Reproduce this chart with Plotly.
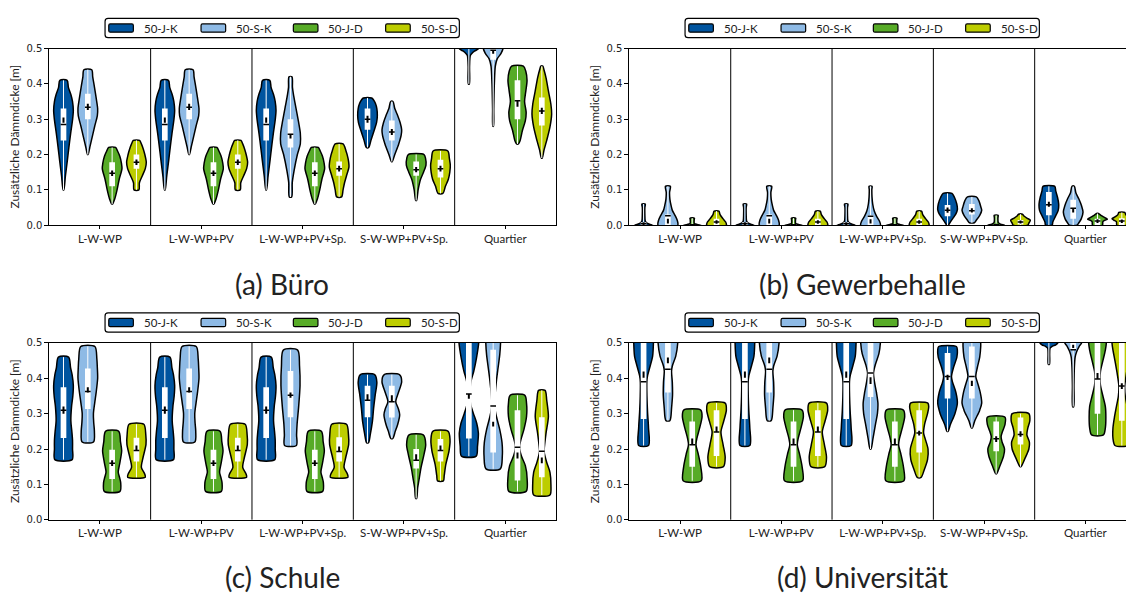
import plotly.graph_objects as go

FIG_W, FIG_H = 1126, 599

GROUPS = ["L-W-WP", "L-W-WP+PV", "L-W-WP+PV+Sp.", "S-W-WP+PV+Sp.", "Quartier"]
SERIES = ["50-J-K", "50-S-K", "50-J-D", "50-S-D"]
COLORS = ["#00549F", "#8EBAE5", "#57AB27", "#BDCD00"]
Y_TICKS = [0.0, 0.1, 0.2, 0.3, 0.4, 0.5]
CAPTIONS = ["(a) Büro", "(b) Gewerbehalle", "(c) Schule", "(d) Universität"]
Y_TITLE = "Zusätzliche Dämmdicke [m]"

# Violin outlines: [value, relative half-width] from the lowest to the highest value.
# ---------------- (a) Büro ----------------
A_JK = [[0.10, 0.03], [0.14, 0.2], [0.185, 0.4], [0.22, 0.55], [0.26, 0.73], [0.30, 0.93], [0.325, 1.0], [0.35, 0.92], [0.37, 0.75], [0.39, 0.5], [0.41, 0.37]]
A_SK = [[0.20, 0.03], [0.22, 0.2], [0.25, 0.45], [0.28, 0.7], [0.31, 0.97], [0.33, 1.0], [0.36, 0.85], [0.39, 0.68], [0.42, 0.5], [0.44, 0.4]]
A_JD = [[0.06, 0.04], [0.075, 0.27], [0.10, 0.5], [0.13, 0.72], [0.16, 1.0], [0.175, 0.95], [0.195, 0.78], [0.21, 0.55], [0.22, 0.35]]
A_SD = [[0.10, 0.25], [0.12, 0.3], [0.14, 0.6], [0.16, 0.9], [0.178, 1.0], [0.20, 0.85], [0.215, 0.7], [0.23, 0.5], [0.24, 0.32]]
A_SK3 = [[0.08, 0.12], [0.12, 0.18], [0.155, 0.37], [0.20, 0.7], [0.23, 1.0], [0.26, 1.0], [0.295, 0.8], [0.34, 0.5], [0.37, 0.3], [0.39, 0.2], [0.42, 0.15]]
A_SD3 = [[0.08, 0.25], [0.10, 0.4], [0.12, 0.55], [0.14, 0.75], [0.165, 1.0], [0.19, 0.9], [0.21, 0.7], [0.23, 0.4]]
A_JK4 = [[0.22, 0.12], [0.24, 0.35], [0.27, 0.7], [0.29, 0.92], [0.31, 1.0], [0.33, 0.95], [0.345, 0.8], [0.355, 0.6], [0.36, 0.42]]
A_SK4 = [[0.18, 0.04], [0.20, 0.3], [0.23, 0.7], [0.255, 0.95], [0.27, 1.0], [0.29, 0.85], [0.31, 0.6], [0.33, 0.3], [0.35, 0.12]]
A_JD4 = [[0.07, 0.04], [0.10, 0.2], [0.13, 0.45], [0.15, 0.75], [0.17, 1.0], [0.19, 0.95], [0.20, 0.8]]
A_SD4 = [[0.09, 0.25], [0.11, 0.5], [0.13, 0.8], [0.15, 0.95], [0.17, 1.0], [0.19, 0.9], [0.21, 0.75]]
A_JK5 = [[0.40, 0.05], [0.45, 0.07], [0.48, 0.15], [0.486, 0.3], [0.493, 0.6], [0.50, 1.0], [0.53, 1.0]]
A_SK5 = [[0.28, 0.03], [0.33, 0.06], [0.40, 0.12], [0.45, 0.22], [0.47, 0.4], [0.486, 0.8], [0.50, 1.0], [0.53, 1.0]]
A_JD5 = [[0.23, 0.1], [0.24, 0.27], [0.268, 0.5], [0.296, 0.8], [0.32, 0.88], [0.35, 0.72], [0.38, 0.85], [0.41, 0.97], [0.435, 0.85], [0.45, 0.6]]
A_SD5 = [[0.19, 0.04], [0.213, 0.23], [0.24, 0.5], [0.278, 0.83], [0.315, 1.0], [0.343, 0.92], [0.38, 0.67], [0.417, 0.43], [0.44, 0.22], [0.45, 0.1]]
BUERO_SHAPES = [[A_JK, A_SK, A_JD, A_SD], [A_JK, A_SK, A_JD, A_SD], [A_JK, A_SK3, A_JD, A_SD3],
                [A_JK4, A_SK4, A_JD4, A_SD4], [A_JK5, A_SK5, A_JD5, A_SD5]]
BUERO_Q1 = [[0.24, 0.30, 0.11, 0.16], [0.24, 0.30, 0.11, 0.16], [0.24, 0.22, 0.11, 0.14], [0.27, 0.24, 0.14, 0.135], [0.505, 0.468, 0.30, 0.282]]
BUERO_MED = [[0.285, 0.334, 0.147, 0.178], [0.285, 0.334, 0.147, 0.178], [0.285, 0.257, 0.147, 0.16], [0.30, 0.264, 0.157, 0.16], [0.52, 0.495, 0.352, 0.323]]
BUERO_Q3 = [[0.33, 0.372, 0.178, 0.20], [0.33, 0.372, 0.178, 0.20], [0.33, 0.30, 0.178, 0.18], [0.33, 0.296, 0.18, 0.185], [0.535, 0.53, 0.41, 0.361]]
BUERO_CI_LO = [[0.29, 0.326, 0.139, 0.17], [0.29, 0.326, 0.139, 0.17], [0.29, 0.245, 0.139, 0.152], [0.29, 0.255, 0.15, 0.152], [0.515, 0.485, 0.335, 0.315]]
BUERO_CI_HI = [[0.305, 0.344, 0.155, 0.186], [0.305, 0.344, 0.155, 0.186], [0.305, 0.258, 0.155, 0.168], [0.31, 0.272, 0.165, 0.168], [0.525, 0.495, 0.352, 0.332]]

# ---------------- (b) Gewerbehalle ----------------
B_JK = [[0.0, 0.95], [0.003, 0.6], [0.007, 0.3], [0.012, 0.17], [0.03, 0.13], [0.05, 0.13], [0.06, 0.17]]
B_SK = [[0.0, 1.0], [0.014, 0.95], [0.028, 0.72], [0.042, 0.45], [0.056, 0.32], [0.074, 0.2], [0.093, 0.17], [0.11, 0.25]]
B_JD = [[0.0, 0.9], [0.002, 0.5], [0.005, 0.22], [0.015, 0.2], [0.02, 0.22]]
B_SD = [[0.0, 1.0], [0.009, 0.93], [0.0185, 0.65], [0.03, 0.36], [0.04, 0.24]]
B_SK3 = [[0.0, 1.0], [0.012, 0.9], [0.025, 0.62], [0.04, 0.38], [0.06, 0.22], [0.08, 0.15], [0.10, 0.13], [0.11, 0.15]]
B_JK4 = [[0.0, 0.08], [0.007, 0.24], [0.0185, 0.52], [0.032, 0.85], [0.044, 1.0], [0.06, 0.94], [0.079, 0.7], [0.09, 0.45]]
B_SK4 = [[0.007, 0.25], [0.014, 0.45], [0.028, 0.8], [0.042, 1.0], [0.051, 0.92], [0.069, 0.72], [0.08, 0.45]]
B_JD4 = [[0.0, 0.85], [0.003, 0.45], [0.007, 0.22], [0.02, 0.18], [0.028, 0.2]]
B_SD4 = [[0.0, 0.75], [0.006, 0.85], [0.014, 1.0], [0.02, 0.65], [0.026, 0.35], [0.031, 0.2]]
B_JK5 = [[0.0, 0.33], [0.009, 0.4], [0.023, 0.63], [0.042, 0.95], [0.06, 1.0], [0.079, 0.88], [0.097, 0.7], [0.11, 0.6]]
B_SK5 = [[0.0, 0.4], [0.007, 0.58], [0.018, 0.82], [0.037, 1.0], [0.055, 0.85], [0.074, 0.58], [0.092, 0.27], [0.11, 0.12]]
B_JD5 = [[0.0, 0.5], [0.01, 0.55], [0.014, 0.75], [0.017, 1.0], [0.022, 0.7], [0.028, 0.35], [0.033, 0.1]]
B_SD5 = [[0.0, 0.5], [0.01, 0.55], [0.014, 0.8], [0.018, 1.0], [0.024, 0.65], [0.03, 0.4], [0.036, 0.3]]
HALLE_SHAPES = [[B_JK, B_SK, B_JD, B_SD], [B_JK, B_SK, B_JD, B_SD], [B_JK, B_SK3, B_JD, B_SD],
                [B_JK4, B_SK4, B_JD4, B_SD4], [B_JK5, B_SK5, B_JD5, B_SD5]]
HALLE_Q1 = [[0.0, 0.0, 0.0, 0.0], [0.0, 0.0, 0.0, 0.0], [0.0, 0.0, 0.0, 0.0], [0.025, 0.03, 0.0, 0.002], [0.028, 0.018, 0.0, 0.0]]
HALLE_MED = [[0.004, 0.027, 0.001, 0.009], [0.004, 0.027, 0.001, 0.009], [0.004, 0.025, 0.001, 0.009], [0.042, 0.041, 0.001, 0.009], [0.058, 0.048, 0.012, 0.012]]
HALLE_Q3 = [[0.008, 0.03, 0.003, 0.018], [0.008, 0.03, 0.003, 0.018], [0.008, 0.028, 0.003, 0.018], [0.057, 0.06, 0.003, 0.015], [0.094, 0.072, 0.018, 0.02]]
HALLE_CI_LO = [[0.0, 0.005, 0.0, 0.004], [0.0, 0.005, 0.0, 0.004], [0.0, 0.005, 0.0, 0.004], [0.035, 0.036, 0.0, 0.005], [0.052, 0.036, 0.006, 0.006]]
HALLE_CI_HI = [[0.008, 0.018, 0.003, 0.014], [0.008, 0.018, 0.003, 0.014], [0.008, 0.017, 0.003, 0.014], [0.05, 0.048, 0.004, 0.013], [0.066, 0.048, 0.017, 0.016]]

# ---------------- (c) Schule ----------------
C_JK = [[0.17, 0.88], [0.20, 0.92], [0.225, 0.92], [0.25, 0.85], [0.28, 0.75], [0.32, 0.82], [0.35, 0.95], [0.38, 1.0], [0.41, 0.88], [0.43, 0.72], [0.46, 0.52]]
C_SK = [[0.22, 0.58], [0.25, 0.67], [0.275, 0.6], [0.30, 0.57], [0.33, 0.7], [0.36, 0.85], [0.40, 1.0], [0.43, 0.97], [0.455, 0.92], [0.49, 0.72]]
C_JD = [[0.08, 0.8], [0.105, 0.87], [0.12, 0.75], [0.135, 0.62], [0.16, 0.78], [0.195, 0.97], [0.22, 0.85], [0.25, 0.67]]
C_SD = [[0.12, 0.9], [0.13, 0.83], [0.148, 0.5], [0.176, 0.67], [0.213, 0.97], [0.24, 0.95], [0.27, 0.75]]
C_SK3 = [[0.21, 0.6], [0.24, 0.62], [0.27, 0.67], [0.32, 0.83], [0.38, 0.97], [0.435, 0.92], [0.48, 0.73]]
C_JK4 = [[0.218, 0.1], [0.241, 0.28], [0.278, 0.5], [0.315, 0.62], [0.352, 0.78], [0.389, 0.95], [0.41, 0.75]]
C_SK4 = [[0.23, 0.1], [0.25, 0.35], [0.27, 0.6], [0.297, 0.8], [0.315, 0.65], [0.334, 0.4], [0.36, 0.67], [0.39, 1.0], [0.41, 0.8]]
C_JD4 = [[0.06, 0.05], [0.09, 0.15], [0.111, 0.28], [0.148, 0.5], [0.185, 0.8], [0.213, 0.97], [0.24, 0.72]]
C_SD4 = [[0.11, 0.3], [0.125, 0.38], [0.157, 0.55], [0.195, 0.87], [0.227, 0.97], [0.25, 0.78]]
C_JK5 = [[0.18, 0.75], [0.208, 0.88], [0.245, 0.97], [0.273, 0.8], [0.30, 0.47], [0.324, 0.2], [0.35, 0.08], [0.37, 0.12], [0.393, 0.23], [0.42, 0.5], [0.458, 0.78], [0.50, 1.0], [0.53, 1.0]]
C_SK5 = [[0.144, 0.73], [0.18, 0.93], [0.218, 0.9], [0.255, 0.67], [0.292, 0.33], [0.324, 0.13], [0.356, 0.2], [0.393, 0.33], [0.43, 0.5], [0.467, 0.67], [0.50, 0.75], [0.53, 0.75]]
C_JD5 = [[0.08, 0.88], [0.116, 0.98], [0.153, 0.8], [0.18, 0.4], [0.205, 0.2], [0.227, 0.35], [0.255, 0.65], [0.292, 0.92], [0.329, 0.92], [0.352, 0.75]]
C_SD5 = [[0.07, 0.83], [0.097, 0.93], [0.134, 0.83], [0.162, 0.5], [0.193, 0.23], [0.208, 0.27], [0.245, 0.43], [0.292, 0.67], [0.338, 0.5], [0.366, 0.33]]
SCHULE_SHAPES = [[C_JK, C_SK, C_JD, C_SD], [C_JK, C_SK, C_JD, C_SD], [C_JK, C_SK3, C_JD, C_SD],
                 [C_JK4, C_SK4, C_JD4, C_SD4], [C_JK5, C_SK5, C_JD5, C_SD5]]
SCHULE_Q1 = [[0.231, 0.313, 0.115, 0.165], [0.231, 0.313, 0.115, 0.165], [0.231, 0.29, 0.115, 0.165], [0.29, 0.289, 0.145, 0.165], [0.23, 0.19, 0.111, 0.12]]
SCHULE_MED = [[0.31, 0.363, 0.16, 0.196], [0.31, 0.363, 0.16, 0.196], [0.31, 0.352, 0.16, 0.193], [0.338, 0.334, 0.168, 0.196], [0.356, 0.322, 0.205, 0.194]]
SCHULE_Q3 = [[0.375, 0.428, 0.198, 0.232], [0.375, 0.428, 0.198, 0.232], [0.375, 0.421, 0.198, 0.233], [0.379, 0.379, 0.20, 0.228], [0.53, 0.481, 0.31, 0.29]]
SCHULE_CI_LO = [[0.30, 0.36, 0.152, 0.196], [0.30, 0.36, 0.152, 0.196], [0.30, 0.345, 0.152, 0.193], [0.338, 0.336, 0.168, 0.196], [0.342, 0.264, 0.173, 0.16]]
SCHULE_CI_HI = [[0.32, 0.375, 0.168, 0.21], [0.32, 0.375, 0.168, 0.21], [0.32, 0.36, 0.168, 0.207], [0.355, 0.352, 0.185, 0.21], [0.356, 0.277, 0.19, 0.176]]

# ---------------- (d) Universität ----------------
D_JK = [[0.21, 0.5], [0.26, 0.5], [0.306, 0.4], [0.35, 0.34], [0.39, 0.33], [0.407, 0.4], [0.435, 0.67], [0.463, 0.92], [0.50, 1.0], [0.53, 1.0]]
D_SK = [[0.28, 0.2], [0.29, 0.3], [0.315, 0.37], [0.352, 0.47], [0.389, 0.45], [0.42, 0.37], [0.435, 0.45], [0.463, 0.8], [0.50, 1.0], [0.53, 1.0]]
D_JD = [[0.11, 0.92], [0.148, 0.88], [0.185, 0.62], [0.212, 0.38], [0.231, 0.48], [0.259, 0.75], [0.292, 1.0], [0.31, 0.87]]
D_SD = [[0.15, 0.7], [0.176, 0.88], [0.212, 0.67], [0.248, 0.45], [0.278, 0.72], [0.31, 1.0], [0.33, 0.88]]
D_SK3 = [[0.20, 0.05], [0.23, 0.25], [0.27, 0.5], [0.30, 0.7], [0.33, 0.75], [0.36, 0.6], [0.39, 0.4], [0.415, 0.3], [0.44, 0.5], [0.47, 0.85], [0.50, 1.0], [0.53, 1.0]]
D_SD3 = [[0.12, 0.2], [0.14, 0.5], [0.17, 0.85], [0.20, 0.9], [0.23, 0.6], [0.245, 0.45], [0.27, 0.55], [0.30, 0.85], [0.32, 0.97], [0.33, 0.88]]
D_JK4 = [[0.25, 0.05], [0.27, 0.3], [0.30, 0.75], [0.33, 1.0], [0.36, 0.85], [0.39, 0.5], [0.405, 0.4], [0.43, 0.6], [0.46, 0.95], [0.48, 1.0], [0.49, 0.9]]
D_SK4 = [[0.26, 0.05], [0.28, 0.3], [0.31, 0.8], [0.33, 1.0], [0.36, 0.85], [0.39, 0.55], [0.405, 0.4], [0.43, 0.55], [0.46, 0.8], [0.49, 0.9], [0.50, 0.9], [0.53, 0.9]]
D_JD4 = [[0.13, 0.05], [0.15, 0.35], [0.18, 0.75], [0.20, 0.85], [0.22, 0.6], [0.235, 0.5], [0.25, 0.65], [0.27, 0.9], [0.29, 0.9]]
D_SD4 = [[0.15, 0.05], [0.17, 0.4], [0.20, 0.85], [0.22, 0.9], [0.24, 0.65], [0.26, 0.75], [0.28, 0.95], [0.30, 0.85]]
D_JK5 = [[0.44, 0.06], [0.47, 0.08], [0.485, 0.12], [0.49, 0.3], [0.495, 0.7], [0.50, 0.9], [0.51, 1.0], [0.54, 1.0]]
D_SK5 = [[0.32, 0.05], [0.38, 0.08], [0.43, 0.12], [0.46, 0.2], [0.475, 0.35], [0.49, 0.6], [0.50, 0.85], [0.52, 1.0], [0.54, 1.0]]
D_JD5 = [[0.24, 0.6], [0.26, 0.8], [0.29, 0.85], [0.32, 0.8], [0.35, 0.55], [0.38, 0.3], [0.40, 0.25], [0.42, 0.3], [0.45, 0.55], [0.48, 0.8], [0.50, 0.9], [0.53, 0.9]]
D_SD5 = [[0.21, 0.7], [0.23, 0.9], [0.26, 0.9], [0.29, 0.75], [0.32, 0.55], [0.35, 0.35], [0.378, 0.3], [0.41, 0.45], [0.45, 0.7], [0.48, 0.9], [0.50, 1.0], [0.53, 1.0]]
UNI_SHAPES = [[D_JK, D_SK, D_JD, D_SD], [D_JK, D_SK, D_JD, D_SD], [D_JK, D_SK3, D_JD, D_SD3],
              [D_JK4, D_SK4, D_JD4, D_SD4], [D_JK5, D_SK5, D_JD5, D_SD5]]
UNI_Q1 = [[0.285, 0.36, 0.15, 0.18], [0.285, 0.36, 0.15, 0.18], [0.285, 0.347, 0.15, 0.19], [0.343, 0.343, 0.194, 0.213], [0.505, 0.48, 0.30, 0.28]]
UNI_MED = [[0.39, 0.426, 0.212, 0.248], [0.39, 0.426, 0.212, 0.248], [0.39, 0.415, 0.212, 0.245], [0.405, 0.405, 0.229, 0.241], [0.52, 0.481, 0.398, 0.378]]
UNI_Q3 = [[0.53, 0.53, 0.278, 0.31], [0.53, 0.53, 0.278, 0.31], [0.53, 0.53, 0.278, 0.31], [0.472, 0.49, 0.278, 0.289], [0.54, 0.53, 0.53, 0.53]]
UNI_CI_LO = [[0.402, 0.443, 0.212, 0.248], [0.402, 0.443, 0.212, 0.248], [0.402, 0.384, 0.212, 0.238], [0.395, 0.378, 0.22, 0.235], [0.515, 0.486, 0.398, 0.37]]
UNI_CI_HI = [[0.419, 0.459, 0.23, 0.264], [0.419, 0.459, 0.23, 0.264], [0.419, 0.403, 0.23, 0.252], [0.41, 0.393, 0.236, 0.25], [0.525, 0.495, 0.415, 0.386]]

# Geometry of the dodged violins (in category units)
DODGE = [-0.36, -0.12, 0.12, 0.36]
HALF_W = 0.097
BOX_HALF = 0.028

# Pixel layout of the four panels
PANEL_LEFT = [49.3, 629.4, 49.3, 629.4]
PANEL_RIGHT = [556.0, 1136.0, 556.0, 1136.0]
PANEL_TOP = [43.3, 43.3, 343.3, 343.3]
PANEL_BOTTOM = [223.3, 223.3, 523.3, 523.3]
LEGEND_TOP = [12.7, 12.7, 312.7, 312.7]
CAPTION_CY = [283, 283, 582, 582]
HALF_CX = [282.2, 862.2, 282.2, 862.2]

# Legend box metrics (px)
LEG_W, LEG_H = 354.3, 19.6
LEG_PAD, LEG_STEP = 3.7, 92.3
SWATCH_W, SWATCH_H = 24.6, 8.4
TEXT_GAP = 8.4

PANELS = [
    (BUERO_SHAPES, BUERO_Q1, BUERO_MED, BUERO_Q3, BUERO_CI_LO, BUERO_CI_HI),
    (HALLE_SHAPES, HALLE_Q1, HALLE_MED, HALLE_Q3, HALLE_CI_LO, HALLE_CI_HI),
    (SCHULE_SHAPES, SCHULE_Q1, SCHULE_MED, SCHULE_Q3, SCHULE_CI_LO, SCHULE_CI_HI),
    (UNI_SHAPES, UNI_Q1, UNI_MED, UNI_Q3, UNI_CI_LO, UNI_CI_HI),
]

fig = go.Figure()


def px_x(v):
    return v / FIG_W


def px_y(v):
    return 1 - v / FIG_H


def violin_path(center, knots):
    ys = [k[0] for k in knots]
    ws = [k[1] for k in knots]
    xr = [center + w * HALF_W for w in ws]
    xl = [center - w * HALF_W for w in ws[::-1]]
    return xr + xl + [xr[0]], ys + ys[::-1] + [ys[0]]


def rounded_rect(x0, y0, x1, y1, r):
    # SVG path in paper coordinates for a rectangle with rounded corners (pixel input)
    X = px_x
    Y = px_y
    return ("M{a},{b} L{c},{b} Q{d},{b} {d},{e} L{d},{f} Q{d},{g} {c},{g} "
            "L{a},{g} Q{h},{g} {h},{f} L{h},{e} Q{h},{b} {a},{b} Z").format(
        a=X(x0 + r), b=Y(y0), c=X(x1 - r), d=X(x1), e=Y(y0 + r),
        f=Y(y1 - r), g=Y(y1), h=X(x0))


shapes = []
annotations = []
for p, (vshapes, q1, med, q3, cilo, cihi) in enumerate(PANELS):
    n = "" if p == 0 else str(p + 1)
    xa, ya = "x" + n, "y" + n

    # violin bodies, one trace per series
    for s in range(4):
        xs, ys = [], []
        for g in range(5):
            px, py = violin_path(g + DODGE[s], vshapes[g][s])
            xs += px + [None]
            ys += py + [None]
        fig.add_trace(go.Scatter(
            x=xs, y=ys, mode="lines", fill="toself", fillcolor=COLORS[s],
            line=dict(color="black", width=1.5, shape="spline", smoothing=0.8),
            name=SERIES[s], showlegend=False, xaxis=xa, yaxis=ya,
            hoverinfo="skip"))

    wx, wy, bx, by, mx, my, cx, cy = [], [], [], [], [], [], [], []
    for g in range(5):
        for s in range(4):
            c = g + DODGE[s]
            knots = vshapes[g][s]
            wx += [c, c, None]
            wy += [knots[0][0], knots[-1][0], None]
            bx += [c - BOX_HALF, c + BOX_HALF, c + BOX_HALF, c - BOX_HALF, c - BOX_HALF, None]
            by += [q1[g][s], q1[g][s], q3[g][s], q3[g][s], q1[g][s], None]
            mx += [c - BOX_HALF, c + BOX_HALF, None]
            my += [med[g][s], med[g][s], None]
            cx += [c, c, None]
            cy += [cilo[g][s], cihi[g][s], None]

    fig.add_trace(go.Scatter(x=wx, y=wy, mode="lines", line=dict(color="white", width=1),
                             showlegend=False, xaxis=xa, yaxis=ya, hoverinfo="skip"))
    fig.add_trace(go.Scatter(x=bx, y=by, mode="lines", fill="toself", fillcolor="white",
                             line=dict(width=0, color="white"), showlegend=False,
                             xaxis=xa, yaxis=ya, hoverinfo="skip"))
    fig.add_trace(go.Scatter(x=mx, y=my, mode="lines", line=dict(color="black", width=1.5),
                             showlegend=False, xaxis=xa, yaxis=ya, hoverinfo="skip"))
    fig.add_trace(go.Scatter(x=cx, y=cy, mode="lines", line=dict(color="black", width=2),
                             showlegend=False, xaxis=xa, yaxis=ya, hoverinfo="skip"))

    left, right = PANEL_LEFT[p], PANEL_RIGHT[p]
    group_px = (right - left) / 5.0
    x_hi = -0.5 + (min(right, FIG_W) - left) / group_px
    x_dom = [px_x(left), px_x(min(right, FIG_W))]
    y_dom = [px_y(PANEL_BOTTOM[p]), px_y(PANEL_TOP[p])]

    fig.layout["xaxis" + n] = dict(
        domain=x_dom, range=[-0.5, x_hi], anchor=ya, tickmode="array",
        tickvals=list(range(5)), ticktext=GROUPS, ticks="outside", ticklen=3,
        tickcolor="black", showline=True, linecolor="black", linewidth=1,
        mirror=True, showgrid=False, zeroline=False,
        tickfont=dict(family="Lato", size=11.5, color="#222222"))
    fig.layout["yaxis" + n] = dict(
        domain=y_dom, range=[0, 0.5], anchor=xa, tickmode="array",
        tickvals=Y_TICKS, ticktext=["%.1f" % t for t in Y_TICKS], ticks="outside",
        ticklen=4, tickcolor="black", showline=True, linecolor="black", linewidth=1,
        mirror=(right <= FIG_W), showgrid=False, zeroline=False,
        tickfont=dict(family="DejaVu Sans", size=10, color="#222222"))

    for k in range(4):
        shapes.append(dict(type="line", xref=xa, yref=ya + " domain", x0=k + 0.5, x1=k + 0.5,
                           y0=0, y1=1, line=dict(color="black", width=1)))

    # legend box with the four series swatches
    lx0 = HALF_CX[p] - LEG_W / 2
    ly0 = LEGEND_TOP[p]
    shapes.append(dict(type="path", xref="paper", yref="paper",
                       path=rounded_rect(lx0, ly0, lx0 + LEG_W, ly0 + LEG_H, 3),
                       fillcolor="white", line=dict(color="black", width=1.2)))
    for s in range(4):
        sx = lx0 + LEG_PAD + s * LEG_STEP
        sy = ly0 + (LEG_H - SWATCH_H) / 2
        shapes.append(dict(type="path", xref="paper", yref="paper",
                           path=rounded_rect(sx, sy, sx + SWATCH_W, sy + SWATCH_H, 1.5),
                           fillcolor=COLORS[s], line=dict(color="black", width=1.2)))
        annotations.append(dict(text=SERIES[s], xref="paper", yref="paper",
                                x=px_x(sx + SWATCH_W + TEXT_GAP), y=px_y(ly0 + LEG_H / 2),
                                xanchor="left", yanchor="middle", showarrow=False,
                                font=dict(family="Lato", size=11.5, color="#222222")))

    annotations.append(dict(text=CAPTIONS[p], xref="paper", yref="paper",
                            x=px_x(HALF_CX[p]), y=px_y(CAPTION_CY[p]),
                            xanchor="center", yanchor="middle", showarrow=False,
                            font=dict(family="Lato", size=28, color="#222222")))
    annotations.append(dict(text=Y_TITLE, xref="paper", yref="paper",
                            x=px_x(left - 34.6),
                            y=px_y((PANEL_TOP[p] + PANEL_BOTTOM[p]) / 2),
                            xanchor="center", yanchor="middle", textangle=-90,
                            showarrow=False,
                            font=dict(family="Lato", size=12, color="#222222")))

fig.update_layout(width=FIG_W, height=FIG_H, margin=dict(l=0, r=0, t=0, b=0),
                  paper_bgcolor="white", plot_bgcolor="white", showlegend=False,
                  shapes=shapes, annotations=annotations)

fig.write_html("out.html")
